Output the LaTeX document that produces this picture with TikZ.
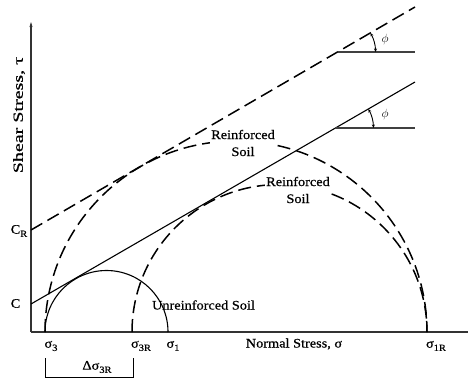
\documentclass[tikz,border=0pt]{standalone}
\usepackage{fontspec}
\setmainfont[FakeStretch=1.1,FakeBold=0.6]{Liberation Serif}
\usetikzlibrary{arrows.meta}
\newcommand{\mysub}[1]{\raisebox{-0.55ex}{\fontsize{9.5}{9.5}\selectfont #1}}
\tikzset{
  axisline/.style={line width=1.2pt, draw=black!80},
  solidline/.style={line width=1.1pt},
  dashline/.style={line width=1.5pt, dash pattern=on 13pt off 6pt},
  lbl/.style={font=\fontsize{13}{17}\selectfont, inner sep=0pt},
  masklbl/.style={lbl, fill=white, inner sep=1pt, align=center},
  anglearc/.style={line width=0.9pt, {Stealth[length=3.5pt,width=3pt]}-{Stealth[length=3.5pt,width=3pt]}},
  hline/.style={line width=1.1pt, draw=black!75}
}
\begin{document}
\begin{tikzpicture}[x=1pt,y=1pt]
\useasboundingbox (0,0) rectangle (468,381);
% axes
\coordinate (O) at (31,49);
\coordinate (ytop) at (31,359);
\coordinate (xend) at (468,49);
\draw[axisline, -{Stealth[length=5pt,width=3pt]}] (O) -- (ytop);
\draw[axisline] (O) -- (xend);
% circles
\draw[solidline] (45,49) arc (180:0:61.5);
\draw[dashline] (45,49) arc (180:0:191);
\draw[dashline] (132,49) arc (180:0:147.5);
% envelopes
\coordinate (C) at (31,77);
\coordinate (Cend) at (415,299);
\coordinate (CR) at (31,151);
\coordinate (CRend) at (415,374);
\draw[solidline] (C) -- (Cend);
\draw[line width=1.5pt, dash pattern=on 13pt off 6pt] (CR) -- (CRend);
% phi angles
\coordinate (v1) at (337.5,329);
\coordinate (h1) at (415,329);
\coordinate (v2) at (335.4,253);
\coordinate (h2) at (415,253);
\draw[hline] (v1) -- (h1);
\draw[hline] (v2) -- (h2);
\draw[anglearc] (v1) ++(30:38) arc (30:0:38);
\draw[anglearc] (v2) ++(30:38) arc (30:0:38);
\node[lbl, font=\fontsize{12}{14}\selectfont] (phi1) at (385,341) {$\phi$};
\node[lbl, font=\fontsize{12}{14}\selectfont] (phi2) at (385,267) {$\phi$};
% axis labels
\node[lbl] (lC) at (15.5,77.5) {C};
\node[lbl] (lCR) at (19,150) {C\mysub{R}};
\node[lbl] (s3) at (51,35) {σ\mysub{3}};
\node[lbl] (s3R) at (141,35) {σ\mysub{3R}};
\node[lbl] (s1) at (173,35) {σ\mysub{1}};
\node[lbl] (s1R) at (436,35) {σ\mysub{1R}};
\node[lbl] (xlab) at (294,37) {Normal Stress, σ};
\node[lbl, rotate=90, anchor=center] (ylab) at (19,266) {\scalebox{1.3}[1]{\fontsize{14}{16}\selectfont Shear Stress, τ}};
% delta bracket
\coordinate (b1) at (45,23);
\coordinate (b2) at (133,23);
\coordinate (b1b) at (45,4);
\coordinate (b2b) at (133,4);
\draw[line width=1pt] (b1) -- (b1b) -- (b2b) -- (b2);
\node[lbl] (dlab) at (97,14) {Δσ\mysub{3R}};
% soil labels
\node[masklbl] (rs1) at (243,238) {Reinforced\\Soil};
\node[masklbl] (rs2) at (298,191) {Reinforced\\Soil};
\node[lbl] (us) at (203.5,76) {Unreinforced Soil};
\end{tikzpicture}
\end{document}
